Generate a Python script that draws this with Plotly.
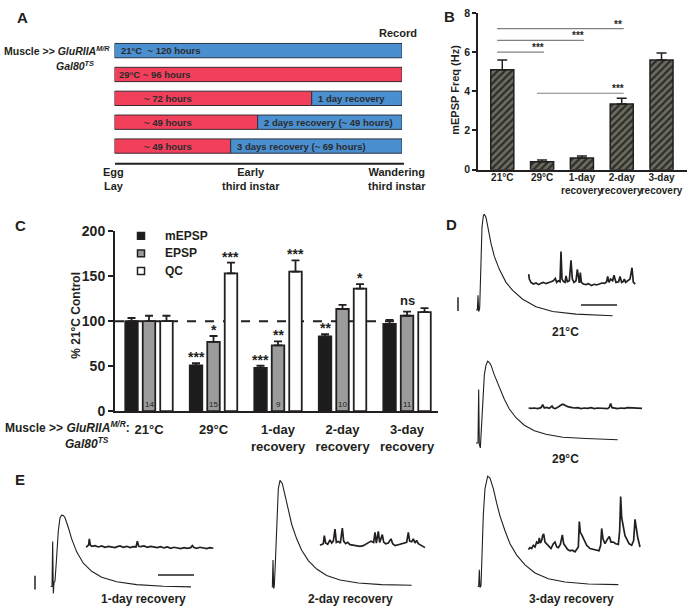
import plotly.graph_objects as go

W, H = 688, 616
FONT = "Liberation Sans, Arial, Helvetica, sans-serif"
INK = "#231f20"
RED = "#f2405c"
BLUE = "#4a8fd0"

# ---------------- data ----------------
# Panel A: rearing schedule, share of the egg-lay -> wandering timeline (%)
A_rows = [1, 2, 3, 4, 5]
A_heat_pct = [0, 100, 68.6, 49.8, 40.4]
A_recovery_pct = [100, 0, 31.4, 50.2, 59.6]
A_heat_text = ["", "29°C ~ 96 hours", "~ 72 hours", "~ 49 hours", "~ 49 hours"]
A_recovery_text = ["21°C  ~ 120 hours", "", "1 day recovery",
                   "2 days recovery (~ 49 hours)", "3 days recovery (~ 69 hours)"]
A_stages = ["Egg<br>Lay", "Early<br>third instar", "Wandering<br>third instar"]

# Panel B: mEPSP frequency (Hz)
B_groups = ["21°C", "29°C", "1-day<br>recovery", "2-day<br>recovery", "3-day<br>recovery"]
B_freq = [5.1, 0.4, 0.6, 3.35, 5.6]
B_sem = [0.5, 0.1, 0.1, 0.3, 0.35]
B_sig = [(0, 3, 7.2, "**"), (0, 2, 6.6, "***"), (0, 1, 6.0, "***"), (1, 3, 3.9, "***")]

# Panel C: % of 21°C control
C_groups = ["21°C", "29°C", "1-day<br>recovery", "2-day<br>recovery", "3-day<br>recovery"]
C_mepsp = [100, 51, 48, 83, 97]
C_mepsp_sem = [3.5, 2.5, 2.5, 2.5, 4.5]
C_epsp = [100, 77, 73, 113.5, 106]
C_epsp_sem = [6, 6.5, 4.5, 4.5, 4.5]
C_qc = [100, 153, 155, 136, 110]
C_qc_sem = [6, 12, 12.5, 5, 4.5]
C_mepsp_sig = ["", "***", "***", "**", ""]
C_epsp_sig = ["", "*", "**", "", "ns"]
C_qc_sig = ["", "***", "***", "*", ""]
C_n = [14, 15, 9, 10, 11]

# Panels D/E: representative traces (time / voltage in arbitrary units)
D21_epsp_t = [0, 4, 6, 8, 11, 14, 18, 22, 25, 30, 36, 45, 55, 70, 90, 110, 140, 180, 230, 300, 410]
D21_epsp_v = [75, 75, 120, 70, 80, 220, 330, 365, 370, 360, 325, 280, 240, 200, 160, 135, 108, 85, 70, 62, 57]
D21_mini_t = [158, 160, 165, 172, 180, 188, 195, 202, 210, 218, 225, 232, 238, 242, 247, 252, 255, 258, 262, 267,
              270, 274, 280, 285, 289, 294, 300, 304, 310, 313, 316, 322, 330, 338, 346, 354, 362, 370, 378, 386,
              392, 395, 399, 404, 410, 414, 420, 428, 432, 437, 442, 445, 449, 455, 462, 468, 472, 478]
D21_mini_v = [185, 170, 160, 155, 158, 153, 157, 160, 156, 158, 162, 165, 172, 160, 165, 162, 255, 170, 163, 160,
              180, 162, 165, 228, 170, 160, 165, 200, 158, 190, 160, 155, 153, 156, 150, 154, 152, 155, 158, 157,
              162, 178, 160, 170, 165, 182, 160, 162, 178, 160, 163, 170, 160, 165, 170, 205, 160, 155]

D29_epsp_t = [0, 6, 8, 10, 13, 16, 20, 25, 30, 35, 40, 45, 55, 70, 85, 100, 120, 145, 175, 210, 260, 330, 425]
D29_epsp_v = [70, 70, 235, 65, 55, 120, 220, 280, 310, 322, 318, 310, 280, 240, 205, 175, 148, 125, 108, 97, 88, 84, 80]
D29_mini_t = [158, 165, 175, 185, 195, 200, 205, 212, 220, 228, 232, 238, 245, 252, 258, 262, 268, 275, 285, 295,
              305, 315, 325, 335, 345, 355, 365, 375, 385, 395, 400, 404, 408, 415, 425, 435, 445, 455, 465, 475,
              485, 498]
D29_mini_v = [178, 177, 178, 176, 179, 188, 178, 180, 177, 184, 178, 176, 180, 186, 189, 189, 186, 182, 180, 178,
              179, 176, 178, 177, 179, 176, 178, 177, 178, 176, 180, 192, 179, 178, 176, 178, 177, 179, 178, 177,
              178, 177]

E1_epsp_t = [62, 66, 68, 70, 72, 75, 80, 85, 90, 95, 100, 105, 115, 125, 140, 160, 185, 215, 260, 320, 400, 483]
E1_epsp_v = [66, 66, 205, 45, 78, 83, 158, 238, 278, 286, 285, 278, 248, 213, 173, 138, 113, 95, 81, 72, 67, 65]
E1_mini_t = [168, 172, 176, 178, 181, 186, 195, 205, 215, 225, 235, 245, 255, 262, 270, 280, 290, 300, 310, 318,
             322, 326, 332, 342, 352, 362, 372, 382, 392, 402, 412, 422, 432, 442, 452, 462, 472, 482, 487, 492,
             500, 510, 520, 530, 540, 550]
E1_mini_v = [188, 190, 195, 213, 193, 190, 192, 188, 191, 187, 190, 188, 186, 189, 191, 187, 190, 186, 189, 188,
             206, 190, 189, 191, 187, 190, 188, 186, 189, 185, 188, 184, 187, 185, 183, 186, 184, 186, 192, 186,
             184, 187, 185, 183, 186, 184]

E2_epsp_t = [22, 24, 26, 28, 31, 34, 37, 40, 45, 52, 60, 70, 80, 95, 110, 130, 155, 185, 225, 280, 350, 440]
E2_epsp_v = [63, 148, 60, 68, 138, 238, 318, 368, 393, 383, 348, 298, 258, 213, 178, 146, 120, 100, 86, 77, 72, 70]
E2_mini_t = [165, 170, 175, 178, 182, 188, 195, 200, 205, 210, 214, 220, 226, 232, 236, 242, 248, 255, 265, 275,
             285, 295, 302, 310, 318, 326, 330, 334, 340, 344, 352, 356, 362, 370, 378, 383, 390, 400, 410, 418,
             425, 430, 434, 440, 445, 450, 455, 460, 468, 475, 480]
E2_mini_v = [193, 195, 198, 223, 200, 196, 210, 200, 206, 243, 202, 205, 200, 246, 206, 198, 202, 195, 193, 191,
             190, 192, 196, 200, 206, 202, 233, 200, 236, 202, 226, 203, 198, 200, 213, 198, 192, 195, 198, 200,
             202, 233, 206, 204, 213, 200, 208, 198, 193, 188, 186]

E3_epsp_t = [8, 11, 13, 15, 18, 21, 25, 30, 35, 38, 45, 55, 65, 75, 90, 105, 125, 150, 180, 220, 270, 340, 430]
E3_epsp_v = [66, 66, 118, 63, 68, 158, 288, 368, 400, 406, 400, 368, 323, 283, 238, 198, 163, 133, 108, 90, 80, 74, 72]
E3_mini_t = [160, 165, 170, 175, 180, 185, 190, 193, 196, 200, 203, 206, 210, 215, 220, 228, 235, 240, 245, 250,
             256, 262, 266, 270, 278, 285, 292, 300, 306, 310, 313, 316, 320, 326, 335, 345, 355, 365, 372, 377,
             380, 384, 390, 396, 403, 408, 415, 422, 430, 434, 437, 440, 445, 450, 455, 462, 470, 476, 480, 484,
             488, 495]
E3_mini_v = [180, 186, 183, 193, 188, 203, 198, 216, 200, 208, 223, 228, 203, 198, 190, 183, 198, 203, 188, 186,
             196, 225, 198, 193, 180, 176, 178, 173, 180, 188, 266, 233, 226, 213, 193, 183, 180, 178, 176, 193,
             245, 213, 198, 210, 220, 203, 203, 198, 196, 238, 343, 278, 243, 223, 213, 198, 193, 208, 273, 243,
             218, 188]

TRACES = [
    ("4", D21_epsp_t, D21_epsp_v, D21_mini_t, D21_mini_v),
    ("5", D29_epsp_t, D29_epsp_v, D29_mini_t, D29_mini_v),
    ("6", E1_epsp_t, E1_epsp_v, E1_mini_t, E1_mini_v),
    ("7", E2_epsp_t, E2_epsp_v, E2_mini_t, E2_mini_v),
    ("8", E3_epsp_t, E3_epsp_v, E3_mini_t, E3_mini_v),
]


# ---------------- helpers ----------------
def xd(a, b):
    return [a / W, b / W]


def yd(top, bottom):
    return [1 - bottom / H, 1 - top / H]


def px(x):
    return x / W


def py(y):
    return 1 - y / H


def fnt(size, weight="bold", color=INK):
    return dict(family=FONT, size=size, color=color, weight=weight)


def ann(text, x, y, size, xanchor="center", yanchor="middle", weight="bold", **kw):
    return dict(text=text, x=px(x), y=py(y), xref="paper", yref="paper", showarrow=False,
                font=fnt(size, weight), xanchor=xanchor, yanchor=yanchor, **kw)


def pline(x0, y0, x1, y1, width=1.5, color=INK):
    return dict(type="line", xref="paper", yref="paper", x0=px(x0), y0=py(y0), x1=px(x1), y1=py(y1),
                line=dict(color=color, width=width))


fig = go.Figure()
annotations = []
shapes = []

# ---------------- Panel A ----------------
fig.add_trace(go.Bar(
    y=A_rows, x=[v if v > 0 else None for v in A_heat_pct], base=0, orientation="h", width=0.6,
    marker=dict(color=RED, line=dict(color="#3a2a2e", width=1)), xaxis="x", yaxis="y", hoverinfo="skip"))
fig.add_trace(go.Bar(
    y=A_rows, x=[v if v > 0 else None for v in A_recovery_pct], base=A_heat_pct, orientation="h", width=0.6,
    marker=dict(color=BLUE, line=dict(color="#2a3440", width=1)), xaxis="x", yaxis="y", hoverinfo="skip"))
for r, heat, rec, ht, rt in zip(A_rows, A_heat_pct, A_recovery_pct, A_heat_text, A_recovery_text):
    if ht:
        annotations.append(dict(text=ht, x=1 if rec == 0 else 9.5, y=r, xref="x", yref="y", showarrow=False,
                                xanchor="left", yanchor="middle", font=fnt(9.5, color="#2b2b2b")))
    if rt:
        annotations.append(dict(text=rt, x=heat + 1.5, y=r, xref="x", yref="y", showarrow=False,
                                xanchor="left", yanchor="middle", font=fnt(9.5, color="#2b2b2b")))
annotations += [
    ann("A", 22, 10, 15),
    ann("Record", 398, 26, 11),
    ann("Muscle &gt;&gt; <i>GluRIIA<sup>M/R</sup></i>", 2, 44, 10.5, xanchor="left"),
    ann("<i>Gal80<sup>TS</sup></i>", 54, 59, 10.5, xanchor="left"),
]
for label, xpos in zip(A_stages, [101, 220, 366]):
    annotations.append(ann(label, xpos, 176, 11, xanchor="left"))
shapes.append(pline(115, 160, 404, 160, width=2))

# ---------------- Panel B ----------------
fig.add_trace(go.Bar(
    x=list(range(len(B_freq))), y=B_freq, width=0.58, xaxis="x2", yaxis="y2", hoverinfo="skip",
    marker=dict(color="#62625a",
                pattern=dict(shape="/", bgcolor="#6c6c60", fgcolor="#2c2c28", size=5, solidity=0.45,
                             fillmode="replace"),
                line=dict(color=INK, width=1.5)),
    error_y=dict(type="data", array=B_sem, arrayminus=[0] * len(B_sem), symmetric=False,
                 color=INK, thickness=1.5, width=5)))
for i, j, lvl, stars in B_sig:
    shapes.append(dict(type="line", xref="x2", yref="y2", x0=i - 0.13, x1=j + 0.05, y0=lvl, y1=lvl,
                       line=dict(color="#808080", width=1.2)))
    annotations.append(dict(text=stars, x=j - 0.1, y=lvl, xref="x2", yref="y2", showarrow=False,
                            xanchor="center", yanchor="bottom", yshift=-3, font=fnt(10)))
annotations += [
    ann("B", 449, 9, 15),
    ann("mEPSP Freq (Hz)", 455, 84, 11, textangle=-90),
]

# ---------------- Panel C ----------------
C_series = [
    ("mEPSP", C_mepsp, C_mepsp_sem, C_mepsp_sig, "#1c1c1c", -0.271),
    ("EPSP", C_epsp, C_epsp_sem, C_epsp_sig, "#9b9b9b", 0.0),
    ("QC", C_qc, C_qc_sem, C_qc_sig, "#ffffff", 0.271),
]
BW = 0.194
for name, vals, sems, sig, col, off in C_series:
    fig.add_trace(go.Bar(
        x=list(range(len(vals))), y=vals, width=BW, offset=off - BW / 2, name=name,
        xaxis="x3", yaxis="y3", hoverinfo="skip",
        marker=dict(color=col, line=dict(color=INK, width=1.8)),
        error_y=dict(type="data", array=sems, arrayminus=[0] * len(sems), symmetric=False,
                     color=INK, thickness=1.8, width=4)))
    for i, (v, s, t) in enumerate(zip(vals, sems, sig)):
        if t:
            annotations.append(dict(text=t, x=i + off, y=v + s, xref="x3", yref="y3", showarrow=False,
                                    xanchor="center", yanchor="bottom",
                                    yshift=2 if t == "ns" else -4,
                                    font=fnt(13 if t == "ns" else 14)))
for i, n in enumerate(C_n):
    annotations.append(dict(text=str(n), x=i, y=0, xref="x3", yref="y3", showarrow=False,
                            xanchor="center", yanchor="bottom", yshift=0, font=fnt(8, weight="normal")))
shapes.append(dict(type="line", xref="x3 domain", yref="y3", x0=0, x1=1, y0=100, y1=100, layer="below",
                   line=dict(color=INK, width=2, dash="dash")))
for k, (name, vals, sems, sig, col, off) in enumerate(C_series):
    yc = 234 + 18 * k
    shapes.append(dict(type="rect", xref="paper", yref="paper", x0=px(137.5), x1=px(144.5),
                       y0=py(yc + 3.5), y1=py(yc - 3.5), fillcolor=col, line=dict(color=INK, width=1.5)))
    annotations.append(ann(name, 163, yc, 12, xanchor="left"))
annotations += [
    ann("C", 20, 223, 15),
    ann("% 21°C Control", 76, 316, 12, textangle=-90),
    ann("Muscle &gt;&gt; <i>GluRIIA<sup>M/R</sup></i>:", 132, 430, 12, xanchor="right"),
    ann("<i>Gal80<sup>TS</sup></i>", 63, 447, 12, xanchor="left"),
]

# ---------------- Panels D / E (traces) ----------------
for ax, et, ev, mt, mv in TRACES:
    fig.add_trace(go.Scatter(x=et, y=ev, mode="lines", xaxis="x" + ax, yaxis="y" + ax, hoverinfo="skip",
                             line=dict(color=INK, width=1.1)))
    fig.add_trace(go.Scatter(x=mt, y=mv, mode="lines", xaxis="x" + ax, yaxis="y" + ax, hoverinfo="skip",
                             line=dict(color=INK, width=1.7)))
annotations += [
    ann("D", 452, 222, 15),
    ann("21°C", 565, 333, 12),
    ann("29°C", 565, 463, 12),
    ann("E", 20, 484, 15),
    ann("1-day recovery", 143, 607, 12),
    ann("2-day recovery", 350, 607, 12),
    ann("3-day recovery", 571, 607, 12),
]
# scale bars
shapes += [
    pline(458, 297, 458, 311, width=1.5),
    pline(581, 305, 617, 305, width=1.5),
    pline(35, 583, 35, 597, width=1.5),
    pline(158, 582, 194, 582, width=1.5),
]

hidden = dict(visible=False, showgrid=False, zeroline=False, fixedrange=True)
layout = dict(
    width=W, height=H, autosize=False, margin=dict(l=0, r=0, t=0, b=0),
    paper_bgcolor="white", plot_bgcolor="rgba(0,0,0,0)", showlegend=False, barmode="overlay",
    font=dict(family=FONT, color=INK, weight="bold"),
    xaxis=dict(domain=xd(114.5, 402), range=[0, 100], anchor="y", **hidden),
    yaxis=dict(domain=yd(31.5, 154), range=[5.5, 0.5], anchor="x", **hidden),
    xaxis2=dict(domain=xd(478, 687), range=[-0.61, 4.64], anchor="y2", showline=True, linecolor=INK,
                linewidth=1.5, ticks="", tickvals=list(range(5)), ticktext=B_groups, tickfont=fnt(10),
                tickangle=0, ticklabelstandoff=-2, showgrid=False, zeroline=False),
    yaxis2=dict(domain=yd(5, 166), range=[0, 8], anchor="x2", showline=True, linecolor=INK, linewidth=1.5,
                ticks="outside", ticklen=4, tickwidth=1.5, tickcolor=INK, tickvals=[0, 2, 4, 6, 8],
                tickfont=fnt(10.5), showgrid=False, zeroline=False),
    xaxis3=dict(domain=xd(115, 438), range=[-0.527, 4.48], anchor="y3", showline=True, linecolor=INK,
                linewidth=2, ticks="", tickvals=list(range(5)), ticktext=C_groups, tickfont=fnt(13),
                tickangle=0, ticklabelstandoff=5, showgrid=False, zeroline=False),
    yaxis3=dict(domain=yd(229, 414), range=[0, 200], anchor="x3", showline=True, linecolor=INK, linewidth=2,
                ticks="outside", ticklen=5, tickwidth=2, tickcolor=INK, tickvals=[0, 50, 100, 150, 200],
                tickfont=fnt(14), showgrid=False, zeroline=False),
    xaxis4=dict(domain=xd(476, 646), range=[0, 510], anchor="y4", **hidden),
    yaxis4=dict(domain=yd(195, 335), range=[0, 420], anchor="x4", **hidden),
    xaxis5=dict(domain=xd(476, 646), range=[0, 510], anchor="y5", **hidden),
    yaxis5=dict(domain=yd(330, 470), range=[0, 420], anchor="x5", **hidden),
    xaxis6=dict(domain=xd(30, 230), range=[0, 600], anchor="y6", **hidden),
    yaxis6=dict(domain=yd(470, 616), range=[0, 438], anchor="x6", **hidden),
    xaxis7=dict(domain=xd(265, 450), range=[0, 555], anchor="y7", **hidden),
    yaxis7=dict(domain=yd(470, 616), range=[0, 438], anchor="x7", **hidden),
    xaxis8=dict(domain=xd(475, 660), range=[0, 555], anchor="y8", **hidden),
    yaxis8=dict(domain=yd(470, 616), range=[0, 438], anchor="x8", **hidden),
    annotations=annotations,
    shapes=shapes,
)
fig.update_layout(**layout)
# remove the default 8px page margin so the 688x616 figure fills the window exactly
fig.write_html("out.html", config={"displayModeBar": False},
               post_script="document.body.style.margin='0';document.body.style.overflow='hidden';")
